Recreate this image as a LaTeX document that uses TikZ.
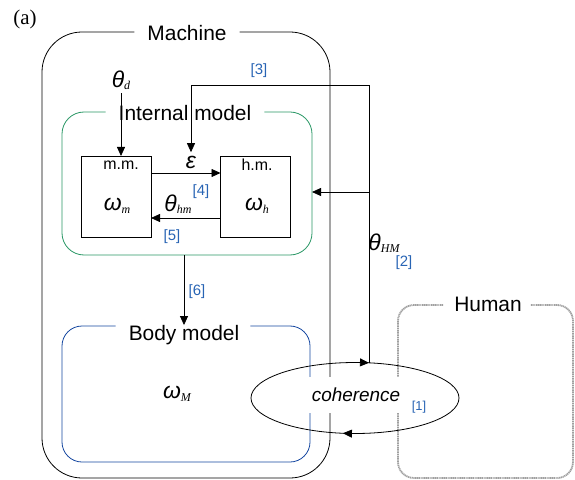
\documentclass[tikz,border=0pt]{standalone}
\usepackage{fontspec}
\setmainfont{Liberation Sans}
\newfontfamily\serif{Liberation Serif}
\usepackage{tikz}
\usetikzlibrary{arrows.meta}
\usetikzlibrary{calc,decorations.markings}

\definecolor{tagblue}{RGB}{40,100,180}
\definecolor{imgreen}{RGB}{40,150,100}
\definecolor{bmblue}{RGB}{20,70,160}
\definecolor{hugray}{RGB}{160,160,160}

\newcommand{\symsub}[2]{#1\raisebox{-0.2ex}{\fontsize{12}{12}\selectfont\serif\itshape #2}}

\tikzset{
  frame/.style={inner sep=0pt, outer sep=0pt},
  title/.style={font=\fontsize{21}{24}\selectfont, inner sep=0pt},
  block/.style={draw, line width=0.8bp, inner sep=0pt, outer sep=0pt, minimum width=70bp, minimum height=81bp},
  tag/.style={text=tagblue, font=\fontsize{15}{17}\selectfont},
  sym/.style={font=\fontsize{23}{26}\selectfont\itshape},
  small/.style={font=\fontsize{16}{18}\selectfont},
  wire/.style={line width=0.8bp},
  link/.style={wire, ->},
  >={Triangle[length=9bp,width=8bp]},
}

\begin{document}
\begin{tikzpicture}[x=1bp,y=-1bp]
  \useasboundingbox (0,0) rectangle (575,480);
  \node (lbl) [font=\fontsize{21}{24}\selectfont\serif] at (25,19) {(a)};

  % machine frame
  \node (mach) [frame, minimum width=288bp, minimum height=446bp] at (186,255) {};
  \node (machT) [title] at (187,33) {Machine};
  \draw[wire, rounded corners=40bp] ($(machT.west |- mach.north)+(-13,0)$) -- (mach.north west) -- (mach.south west) -- (mach.south east) -- (mach.north east) -- ($(machT.east |- mach.north)+(13,0)$);

  % internal model
  \node (im) [frame, minimum width=250bp, minimum height=143bp] at (187,183.5) {};
  \node (imT) [title] at (185,113) {Internal model};
  \draw[wire, imgreen, rounded corners=22bp] ($(imT.west |- im.north)+(-13,0)$) -- (im.north west) -- (im.south west) -- (im.south east) -- (im.north east) -- ($(imT.east |- im.north)+(13,0)$);

  \node (mm) [block] at (116,196.5) {};
  \node (hm) [block] at (255.5,196.5) {};
  \node (mmT) [small] at (121,165) {m.m.};
  \node (hmT) [small] at (257,165) {h.m.};
  \node (wm) [sym] at (117,206) {\symsub{ω}{m}};
  \node (wh) [sym] at (257,206) {\symsub{ω}{h}};
  \draw[link] ($(mm.north east)+(0,17)$) -- ($(hm.north west)+(0,17)$);
  \draw[link] ($(hm.south west)+(0,-19)$) -- ($(mm.south east)+(0,-19)$);
  \node (eps) [sym] at (191,162) {ε};
  \node (thhm) [sym] at (178,204) {\symsub{θ}{hm}};
  \node (t4) [tag] at (201,192) {[4]};
  \node (t5) [tag] at (172,237) {[5]};

  \node (thd) [sym] at (121,80) {\symsub{θ}{d}};
  \draw[link] (thd.south) -- (thd.south |- mm.north);

  % body model
  \node (bm) [frame, minimum width=248bp, minimum height=136bp] at (186,394) {};
  \node (bmT) [title] at (184,335) {Body model};
  \draw[wire, bmblue, rounded corners=20bp] ($(bmT.west |- bm.north)+(-13,0)$) -- (bm.north west) -- (bm.south west) -- (bm.south east) -- (bm.north east) -- ($(bmT.east |- bm.north)+(11,0)$);
  \node (wM) [sym] at (177,394) {\symsub{ω}{M}};
  \draw[link] (bmT.north |- im.south) -- (bmT.north);
  \node (t6) [tag] at (197,292) {[6]};

  % human
  \node (hu) [frame, minimum width=175bp, minimum height=173bp] at (485.5,391.5) {};
  \node (huT) [title] at (488,304) {Human};
  \draw[hugray, line width=1.8bp, dash pattern=on 1.2bp off 0.6bp, rounded corners=16bp] ($(huT.west |- hu.north)+(-11,0)$) -- (hu.north west) -- (hu.south west) -- (hu.south east) -- (hu.north east) -- ($(huT.east |- hu.north)+(9,0)$);

  % coherence loop
  \coordinate (cc) at (355,398);
  \node (coh) [font=\fontsize{19}{22}\selectfont\itshape, fill=white, inner sep=0pt, minimum width=100bp, minimum height=36bp] at (356,395) {coherence};
  \draw[wire, postaction={decorate}, decoration={markings, mark=at position 0.276 with {\arrow{>}}, mark=at position 0.78 with {\arrow{>}}}] (cc) ellipse [x radius=104, y radius=35.5];
  \node (t1) [tag, font=\fontsize{13}{15}\selectfont] at (419,407) {[1]};

  % feedback to the machine
  \coordinate (jt) at (369,363);
  \coordinate (jr) at (369,192);
  \coordinate (turn) at (369,85);
  \draw[link] (jt) -- (turn) -| (eps.north);
  \draw[link] (jr) -- (jr -| im.east);
  \node (t3) [tag] at (259,71) {[3]};
  \node (thHM) [sym] at (384,243) {\symsub{θ}{HM}};
  \node (t2) [tag] at (404,263) {[2]};
\end{tikzpicture}
\end{document}
